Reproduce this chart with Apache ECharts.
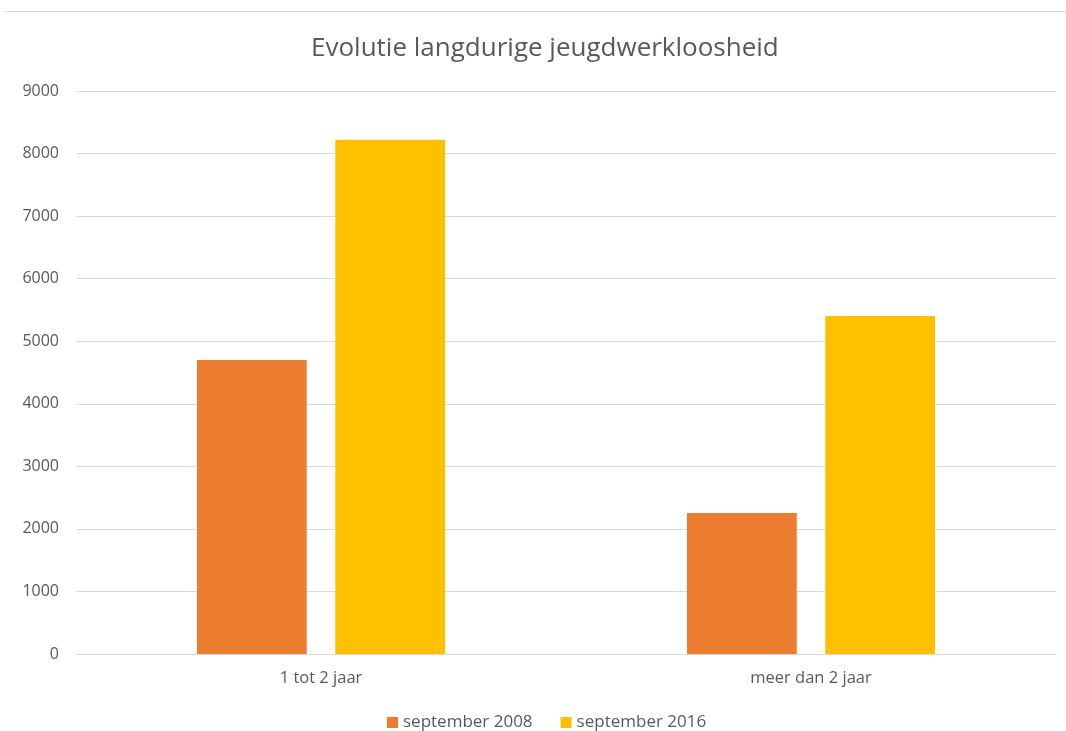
<!DOCTYPE html>
<html>
<head>
<meta charset="utf-8">
<script src="https://cdn.jsdelivr.net/npm/echarts@6/dist/echarts.min.js"></script>
<style>
html,body{margin:0;padding:0;background:#fff;}
#chart{width:1066px;height:731px;}
</style>
</head>
<body>
<div id="chart"></div>
<script>
const categories = ['1 tot 2 jaar', 'meer dan 2 jaar'];
const seriesNames = ['september 2008', 'september 2016'];
const sep2008 = [4700, 2255];
const sep2016 = [8220, 5405];
const yTicks = { min: 0, max: 9000, interval: 1000 };

const font = '"Open Sans", "Noto Sans", sans-serif';
const chart = echarts.init(document.getElementById('chart'));
chart.setOption({
  animation: false,
  backgroundColor: '#ffffff',
  textStyle: { fontFamily: font },
  title: {
    text: 'Evolutie langdurige jeugdwerkloosheid',
    left: 306,
    top: 31,
    textStyle: { fontFamily: font, fontSize: 26, fontWeight: 'normal', color: '#595959' }
  },
  graphic: [{
    type: 'line',
    shape: { x1: 4, y1: 11.5, x2: 1066, y2: 11.5 },
    style: { stroke: '#d9d9d9', lineWidth: 1 }
  }],
  legend: {
    top: 709,
    left: 382,
    itemWidth: 11,
    itemHeight: 11,
    itemGap: 28,
    icon: 'rect',
    textStyle: { fontFamily: font, fontSize: 17, color: '#595959' },
    data: seriesNames
  },
  grid: { left: 76, right: 10, top: 91, bottom: 77, containLabel: false },
  xAxis: {
    type: 'category',
    data: categories,
    axisLine: { lineStyle: { color: '#d9d9d9', width: 1 } },
    axisTick: { show: false },
    axisLabel: { color: '#595959', fontSize: 16.5, fontFamily: font, margin: 16 }
  },
  yAxis: {
    type: 'value',
    min: yTicks.min, max: yTicks.max, interval: yTicks.interval,
    axisLine: { show: false },
    axisTick: { show: false },
    axisLabel: { color: '#595959', fontSize: 16, fontFamily: font, margin: 17,
      formatter: function (v) { return String(v); } },
    splitLine: { lineStyle: { color: '#d9d9d9', width: 1 } }
  },
  series: [
    { name: seriesNames[0], type: 'bar', data: sep2008, barWidth: '22.4%', barGap: '26%',
      itemStyle: { color: '#ed7d31' } },
    { name: seriesNames[1], type: 'bar', data: sep2016, barWidth: '22.4%', barGap: '26%',
      itemStyle: { color: '#ffc000' } }
  ]
});
</script>
</body>
</html>
